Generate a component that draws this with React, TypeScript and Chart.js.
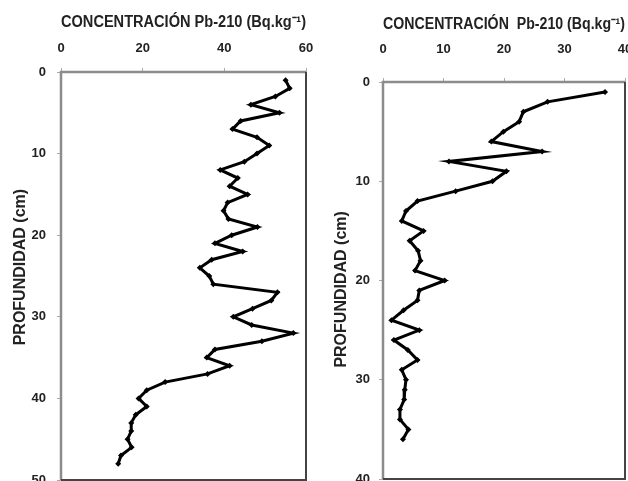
import React, { useEffect, useRef } from "react";
import { Chart, registerables } from "chart.js";
Chart.register(...registerables);

const titleText = "CONCENTRACIÓN Pb-210 (Bq.kg⁻¹)";
const titleTextRight = "CONCENTRACIÓN  Pb-210 (Bq.kg⁻¹)";
const yTitleLeft = "    PROFUNDIDAD (cm)";
const yTitleRight = "PROFUNDIDAD (cm)    ";

const leftDepth = [1, 2, 3, 4, 5, 6, 7, 8, 9, 10, 11, 12, 13, 14, 15, 16, 17, 18, 19, 20, 21, 22, 23, 24, 25, 26, 27, 28, 29, 30, 31, 32, 33, 34, 35, 36, 37, 38, 39, 40, 41, 42, 43, 44, 45, 46, 47, 48];
const leftConc = [55, 56, 52.5, 46.5, 53.5, 44, 42, 48, 51, 48, 44.9, 39, 43.3, 41.3, 45.7, 40.8, 39.8, 41, 48.1, 41.8, 37.7, 44.5, 36.9, 34, 36.3, 37.3, 53, 51.5, 46.9, 42.2, 46.7, 56.9, 49.2, 37.7, 35.7, 41.3, 35.9, 25.5, 21, 19, 21, 18.3, 17.2, 17.2, 16.3, 17.3, 14.7, 14];

const rightDepth = [1, 2, 3, 4, 5, 6, 7, 8, 9, 10, 11, 12, 13, 14, 15, 16, 17, 18, 19, 20, 21, 22, 23, 24, 25, 26, 27, 28, 29, 30, 31, 32, 33, 34, 35, 36];
const rightConc = [36.7, 27.2, 23.2, 22.5, 19.9, 17.9, 26.3, 10.9, 20.4, 18.1, 12, 5.7, 3.8, 3.1, 6.7, 4.4, 5.8, 6.2, 5.3, 10.2, 6, 5.7, 3.4, 1.4, 6, 1.8, 4.1, 5.7, 3.1, 3.8, 3.6, 3.5, 2.8, 2.8, 4.2, 3.3];

const leftXTicks = { max: 60, step: 20 };
const leftYTicks = { max: 50, step: 10 };
const rightXTicks = { max: 40, step: 10 };
const rightYTicks = { max: 40, step: 10 };

const FONT = "'Liberation Sans', Arial, sans-serif";

const framePlugin = {
  id: "frame",
  beforeDatasetsDraw(chart: any) {
    const { ctx, chartArea: a } = chart;
    ctx.save();
    ctx.lineWidth = 2.5;
    ctx.strokeStyle = "#8c8c8c";
    ctx.beginPath();
    ctx.moveTo(a.left, a.bottom);
    ctx.lineTo(a.left, a.top);
    ctx.lineTo(a.right, a.top);
    ctx.stroke();
    ctx.lineWidth = 2;
    ctx.strokeStyle = "#444";
    ctx.beginPath();
    ctx.moveTo(a.right, a.top);
    ctx.lineTo(a.right, a.bottom);
    ctx.lineTo(a.left, a.bottom);
    ctx.stroke();
    ctx.restore();
  },
};

type Geom = {
  left: number;
  width: number;
  height: number;
  yAxisW: number;
  xAxisH: number;
  padRight: number;
  padBottom: number;
  yTitlePad: number;
  xTitlePad: number;
  xTickPad: number;
  yTickPad: number;
};

function Profile(props: {
  depths: number[];
  values: number[];
  xt: { max: number; step: number };
  yt: { max: number; step: number };
  title: string;
  yTitle: string;
  g: Geom;
}) {
  const ref = useRef<HTMLCanvasElement>(null);
  const { depths, values, xt, yt, title, yTitle, g } = props;
  useEffect(() => {
    if (!ref.current) return;
    const data = values.map((v, i) => ({ x: v, y: depths[i] }));
    const chart = new Chart(ref.current, {
      type: "scatter",
      data: {
        datasets: [
          {
            data,
            showLine: true,
            borderColor: "#000",
            backgroundColor: "#000",
            borderWidth: 3,
            pointStyle: "rectRot",
            pointRadius: 3,
            pointBorderWidth: 0,
            tension: 0,
          },
        ],
      },
      options: {
        animation: false,
        responsive: false,
        devicePixelRatio: 1,
        layout: { padding: { left: 0, top: 0, right: g.padRight, bottom: g.padBottom } },
        plugins: { legend: { display: false }, tooltip: { enabled: false } },
        scales: {
          x: {
            type: "linear",
            position: "top",
            min: 0,
            max: xt.max,
            ticks: {
              stepSize: xt.step,
              color: "#222",
              font: { family: FONT, size: 13, weight: "bold" },
              padding: g.xTickPad,
              maxRotation: 0,
            },
            grid: { drawOnChartArea: false, drawTicks: true, tickLength: 4, color: "#aaa" },
            border: { display: false },
            title: {
              display: true,
              text: title,
              color: "#222",
              font: { family: FONT, size: 16, weight: "bold" },
              padding: { top: g.xTitlePad, bottom: 0 },
            },
            afterFit(s: any) {
              s.height = g.xAxisH;
              s.paddingLeft = 0;
              s.paddingRight = 0;
            },
          },
          y: {
            type: "linear",
            position: "left",
            reverse: true,
            min: 0,
            max: yt.max,
            ticks: {
              stepSize: yt.step,
              color: "#222",
              font: { family: FONT, size: 13, weight: "bold" },
              padding: g.yTickPad,
            },
            grid: { drawOnChartArea: false, drawTicks: true, tickLength: 4, color: "#aaa" },
            border: { display: false },
            title: {
              display: true,
              text: yTitle,
              color: "#222",
              font: { family: FONT, size: 16, weight: "bold" },
              padding: { top: g.yTitlePad, bottom: 0 },
            },
            afterFit(s: any) {
              s.width = g.yAxisW;
              s.paddingTop = 0;
              s.paddingBottom = 0;
            },
          },
        },
      },
      plugins: [framePlugin],
    } as any);
    return () => chart.destroy();
  }, []);
  return (
    <canvas
      ref={ref}
      width={g.width}
      height={g.height}
      style={{ position: "absolute", left: g.left, top: 0, width: g.width, height: g.height }}
    />
  );
}

const leftGeom: Geom = {
  left: 0,
  width: 320,
  height: 500,
  yAxisW: 61,
  xAxisH: 72,
  padRight: 14,
  padBottom: 20,
  yTitlePad: 11,
  xTitlePad: 13,
  xTickPad: 12,
  yTickPad: 11,
};

const rightGeom: Geom = {
  left: 330,
  width: 330,
  height: 500,
  yAxisW: 53,
  xAxisH: 82,
  padRight: 35,
  padBottom: 21,
  yTitlePad: 2,
  xTitlePad: 15,
  xTickPad: 21,
  yTickPad: 9,
};

export default function App() {
  return (
    <div
      style={{
        position: "absolute",
        left: 0,
        top: 0,
        width: 628,
        height: 481,
        overflow: "hidden",
        background: "#fff",
      }}
    >
      <Profile depths={leftDepth} values={leftConc} xt={leftXTicks} yt={leftYTicks} title={titleText} yTitle={yTitleLeft} g={leftGeom} />
      <Profile depths={rightDepth} values={rightConc} xt={rightXTicks} yt={rightYTicks} title={titleTextRight} yTitle={yTitleRight} g={rightGeom} />
    </div>
  );
}
